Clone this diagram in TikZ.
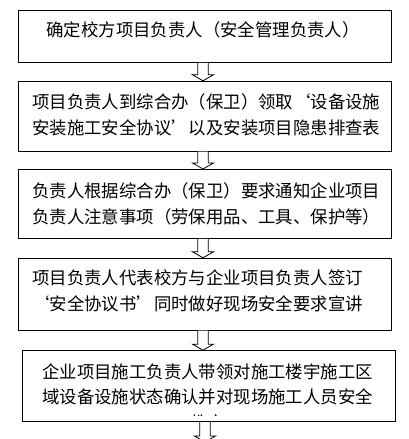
\documentclass[tikz,border=0pt]{standalone}
\usepackage{fontspec}
\setmainfont{Noto Sans CJK SC}
\usetikzlibrary{calc}
\tikzset{
  boxnode/.style={draw=black, line width=1pt, rectangle, inner sep=0pt, fill=none},
  txt/.style={inner sep=0pt, font=\fontsize{17.4pt}{25.5pt}\selectfont, text=black},
  arrowline/.style={draw=black, line width=0.8pt, fill=white, line join=miter}
}
\newcommand\hollowarrow[2]{%
  \draw[arrowline] let \p1=(#1), \p2=(#2) in
    (\x1-5.3pt,\y1) -- (\x1-5.3pt,\y2+6pt) -- (\x1-10.5pt,\y2+6pt) -- (\x2,\y2)
    -- (\x1+10.5pt,\y2+6pt) -- (\x1+5.3pt,\y2+6pt) -- (\x1+5.3pt,\y1);%
}
\begin{document}
\begin{tikzpicture}[x=1pt,y=-1pt]
\useasboundingbox (0,0) rectangle (408,439);
% boxes
\node[boxnode, minimum width=373pt, minimum height=51.6pt] (b1) at (205,36.5) {};
\node[boxnode, minimum width=373pt, minimum height=69.7pt] (b2) at (205,116.15) {};
\node[boxnode, minimum width=373pt, minimum height=68.8pt] (b3) at (205,203.9) {};
\node[boxnode, minimum width=373pt, minimum height=71.7pt] (b4) at (205,294.15) {};
\node[boxnode, minimum width=372.6pt, minimum height=71pt] (b5) at (209,386.2) {};
% texts
\node[txt, anchor=center] (t1) at (203,30) {确定校方项目负责人（安全管理负责人）};
\node[txt, anchor=west, align=left] (t2) at (32,114.8) {项目负责人到综合办（保卫）领取‘设备设施\\安装施工安全协议’以及安装项目隐患排查表};
\node[txt, anchor=west, align=left] (t3) at (32,203.8) {负责人根据综合办（保卫）要求通知企业项目\\负责人注意事项（劳保用品、工具、保护等）};
\node[txt, anchor=west, align=left] (t4) at (32,290.8) {项目负责人代表校方与企业项目负责人签订\\‘安全协议书’同时做好现场安全要求宣讲};
\begin{scope}
  \clip (23,351) rectangle (395,415.6);
  \node[txt, anchor=center, align=center] (t5) at (207.5,397) {企业项目施工负责人带领对施工楼宇施工区\\域设备设施状态确认并对现场施工人员安全\\教育};
\end{scope}
% arrows
\coordinate (ax) at (203,0);
\coordinate (ax5) at (205,0);
\coordinate (e5) at (205,442);
\hollowarrow{b1.south -| ax}{b2.north -| ax}
\hollowarrow{b2.south -| ax}{b3.north -| ax}
\hollowarrow{b3.south -| ax}{b4.north -| ax}
\hollowarrow{b4.south -| ax}{b5.north -| ax}
\hollowarrow{b5.south -| ax5}{e5}
\end{tikzpicture}
\end{document}
